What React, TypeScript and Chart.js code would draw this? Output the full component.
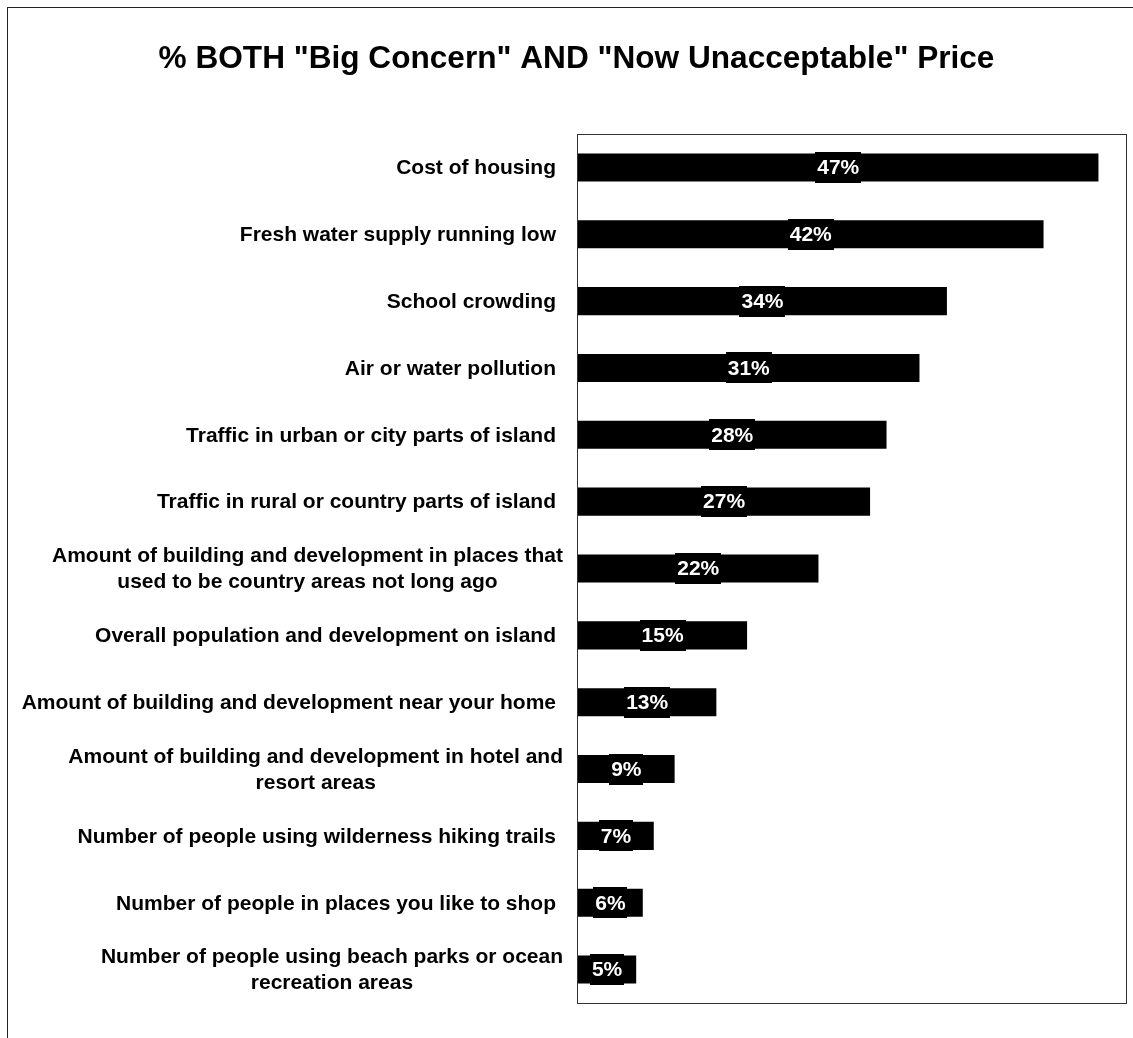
import React, { useEffect, useRef } from "react";
import { Chart, registerables } from "chart.js";

Chart.register(...registerables);

const titleText = '% BOTH "Big Concern" AND "Now Unacceptable" Price';

const categories: (string | string[])[] = [
  "Cost of housing",
  "Fresh water supply running low",
  "School crowding",
  "Air or water pollution",
  "Traffic in urban or city parts of island",
  "Traffic in rural or country parts of island",
  ["Amount of building and development in places that", "used to be country areas not long ago"],
  "Overall population and development on island",
  "Amount of building and development near your home",
  ["Amount of building and development in hotel and", "resort areas"],
  "Number of people using wilderness hiking trails",
  "Number of people in places you like to shop",
  ["Number of people using beach parks or ocean", "recreation areas"],
];

const values: number[] = [47.4, 42.4, 33.6, 31.1, 28.1, 26.6, 21.9, 15.4, 12.6, 8.8, 6.9, 5.9, 5.3];

const axisMin = 0;
const axisMax = 50;

const FONT = '"Liberation Sans", Arial, sans-serif';

const decorPlugin = {
  id: "decor",
  beforeDraw(chart: any) {
    const { ctx, width, height } = chart;
    ctx.save();
    ctx.fillStyle = "#fff";
    ctx.fillRect(0, 0, width, height);
    // outer frame
    ctx.strokeStyle = "#222";
    ctx.lineWidth = 1;
    ctx.strokeRect(7.5, 7.5, width + 20, height + 20);
    // title
    ctx.fillStyle = "#000";
    ctx.font = `bold 31.6px ${FONT}`;
    ctx.textAlign = "center";
    ctx.textBaseline = "alphabetic";
    ctx.fillText(titleText, 576.5, 68);
    ctx.restore();
  },
  afterDatasetsDraw(chart: any) {
    const { ctx, chartArea } = chart;
    ctx.save();
    // plot frame
    ctx.strokeStyle = "#333";
    ctx.lineWidth = 1;
    ctx.strokeRect(
      Math.round(chartArea.left) - 0.5,
      Math.round(chartArea.top) + 0.5,
      Math.round(chartArea.right - chartArea.left),
      Math.round(chartArea.bottom - chartArea.top)
    );
    // value labels
    const meta = chart.getDatasetMeta(0);
    ctx.font = `bold 21px ${FONT}`;
    ctx.textAlign = "center";
    ctx.textBaseline = "middle";
    meta.data.forEach((bar: any, i: number) => {
      const p = bar.getProps(["x", "y", "base"], true);
      const cx = (p.x + p.base) / 2;
      const text = Math.round(values[i]) + "%";
      const w = ctx.measureText(text).width;
      ctx.fillStyle = "#000";
      ctx.fillRect(Math.round(cx - w / 2 - 2), Math.round(p.y - 15.5), Math.round(w + 4), 31);
      ctx.fillStyle = "#fff";
      ctx.fillText(text, cx, p.y + 1);
    });
    // category labels
    const yScale = chart.scales.y;
    ctx.fillStyle = "#000";
    ctx.font = `bold 21px ${FONT}`;
    const lh = 26;
    categories.forEach((lab, i) => {
      const lines = Array.isArray(lab) ? lab : [lab];
      const right = chartArea.left - (lines.length > 1 ? 15 : 22);
      const yc = yScale.getPixelForValue(i);
      const maxW = Math.max(...lines.map((l) => ctx.measureText(l).width));
      const cx = right - maxW / 2;
      const y0 = yc - ((lines.length - 1) * lh) / 2;
      lines.forEach((l, k) => {
        ctx.fillText(l, cx, y0 + k * lh + 1);
      });
    });
    ctx.restore();
  },
};

export default function App() {
  const ref = useRef<HTMLCanvasElement | null>(null);
  useEffect(() => {
    if (!ref.current) return;
    const chart = new Chart(ref.current, {
      type: "bar",
      data: {
        labels: categories as any,
        datasets: [
          {
            data: values,
            backgroundColor: "#000",
            borderWidth: 0,
            barPercentage: 0.42,
            categoryPercentage: 1,
          },
        ],
      },
      options: {
        indexAxis: "y",
        responsive: false,
        animation: false,
        layout: { padding: { left: 578, right: 6, top: 134, bottom: 35 } },
        plugins: {
          legend: { display: false },
          title: { display: false },
          tooltip: { enabled: false },
        },
        scales: {
          x: { display: false, min: axisMin, max: axisMax },
          y: { display: false },
        },
      },
      plugins: [decorPlugin],
    });
    return () => chart.destroy();
  }, []);
  return (
    <div style={{ position: "absolute", left: 0, top: 0, width: 1133, height: 1038 }}>
      <canvas ref={ref} width={1133} height={1038} style={{ display: "block" }} />
    </div>
  );
}
